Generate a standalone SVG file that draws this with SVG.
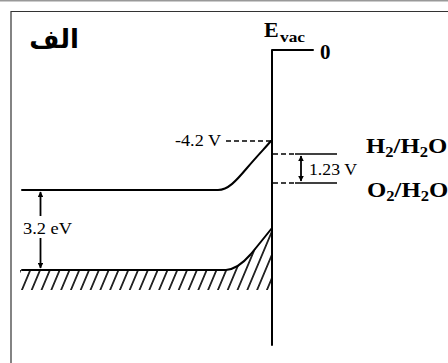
<svg xmlns="http://www.w3.org/2000/svg" width="448" height="363" viewBox="0 0 448 363">
  <style>
    .ser { font-family: "Liberation Serif", "Times New Roman", serif; fill: #000; }
    .b { font-weight: bold; }
    .band { fill: none; stroke: #000; stroke-width: 2; stroke-linejoin: round; stroke-linecap: round; }
    .dash { fill: none; stroke: #000; stroke-width: 1.4; stroke-dasharray: 5 3; }
    .solid { fill: none; stroke: #000; stroke-width: 1.6; }
    .arr { fill: none; stroke: #000; stroke-width: 1.8; marker-end: url(#ah); marker-start: url(#ah); }
    .arr1 { fill: none; stroke: #000; stroke-width: 1.8; }
  </style>
  <defs>
    <marker id="ah" viewBox="0 0 10 10" refX="9" refY="5" markerWidth="3.2" markerHeight="3.2" orient="auto-start-reverse" markerUnits="strokeWidth">
      <path d="M0 0 L10 5 L0 10 Z" fill="#000"/>
    </marker>
    <pattern id="hatch" patternUnits="userSpaceOnUse" x="1.7" y="0" width="9.8" height="20" patternTransform="skewX(-22.8)">
      <line x1="4.9" y1="-1" x2="4.9" y2="21" stroke="#000" stroke-width="1.7"/>
    </pattern>
    <clipPath id="vbclip">
      <path d="M20 270 H226 C236 269 244 262 250 255 S264 238 272 228 V290 H20 Z"/>
    </clipPath>
  </defs>

  <rect width="448" height="363" fill="#fff"/>

  <g id="frame">
    <line x1="0" y1="0.8" x2="448" y2="0.8" stroke="#999" stroke-width="1.6"/>
    <polyline points="11,363 11,11.5 448,11.5" fill="none" stroke="#333" stroke-width="1.2"/>
  </g>

  <g id="title">
    <text x="54" y="48" class="b" font-family="'DejaVu Sans', 'Noto Sans', sans-serif" font-size="26" text-anchor="middle" fill="#000">الف</text>
  </g>

  <g id="surface">
    <polyline class="band" points="272,345 272,50 313,50"/>
  </g>

  <g id="evac">
    <text class="ser b" x="264" y="37" font-size="22">E</text>
    <text class="ser b" x="280" y="42" font-size="14" textLength="25" lengthAdjust="spacingAndGlyphs">vac</text>
    <text class="ser b" x="320" y="59" font-size="21">0</text>
  </g>

  <g id="conduction-band">
    <path class="band" d="M22 190 H218 C228 190 236 181 247 168 S265 148 271 141"/>
  </g>

  <g id="valence-band">
    <rect x="20" y="220" width="253" height="72" fill="url(#hatch)" clip-path="url(#vbclip)"/>
    <path class="band" d="M22 270 H226 C236 269 244 262 250 255 S264 238 272 228"/>
  </g>

  <g id="redox-levels">
    <line class="dash" x1="273" y1="154" x2="294" y2="154"/>
    <line class="solid" x1="295" y1="154" x2="337" y2="154"/>
    <line class="dash" x1="273" y1="183" x2="294" y2="183"/>
    <line class="solid" x1="295" y1="183" x2="337" y2="183"/>
    <text class="ser b" transform="translate(366,153) scale(1.18,1)" font-size="21">H<tspan font-size="14" dy="4">2</tspan><tspan dy="-4">/H</tspan><tspan font-size="14" dy="4">2</tspan><tspan dy="-4">O</tspan></text>
    <text class="ser b" transform="translate(367,197) scale(1.18,1)" font-size="21">O<tspan font-size="14" dy="4">2</tspan><tspan dy="-4">/H</tspan><tspan font-size="14" dy="4">2</tspan><tspan dy="-4">O</tspan></text>
  </g>

  <g id="connectors">
    <line class="dash" x1="226" y1="141" x2="271" y2="141"/>
    <text class="ser" x="175" y="146" font-size="16" textLength="46" lengthAdjust="spacingAndGlyphs">-4.2 V</text>

    <line class="arr" x1="301" y1="156" x2="301" y2="181"/>
    <text class="ser" x="309" y="175" font-size="17" textLength="48" lengthAdjust="spacingAndGlyphs">1.23 V</text>

    <line class="arr1" x1="40.5" y1="192" x2="40.5" y2="216" marker-start="url(#ah)"/>
    <line class="arr1" x1="40.5" y1="238" x2="40.5" y2="268" marker-end="url(#ah)"/>
    <text class="ser" x="23" y="234" font-size="17" textLength="49" lengthAdjust="spacingAndGlyphs">3.2 eV</text>
  </g>
</svg>
